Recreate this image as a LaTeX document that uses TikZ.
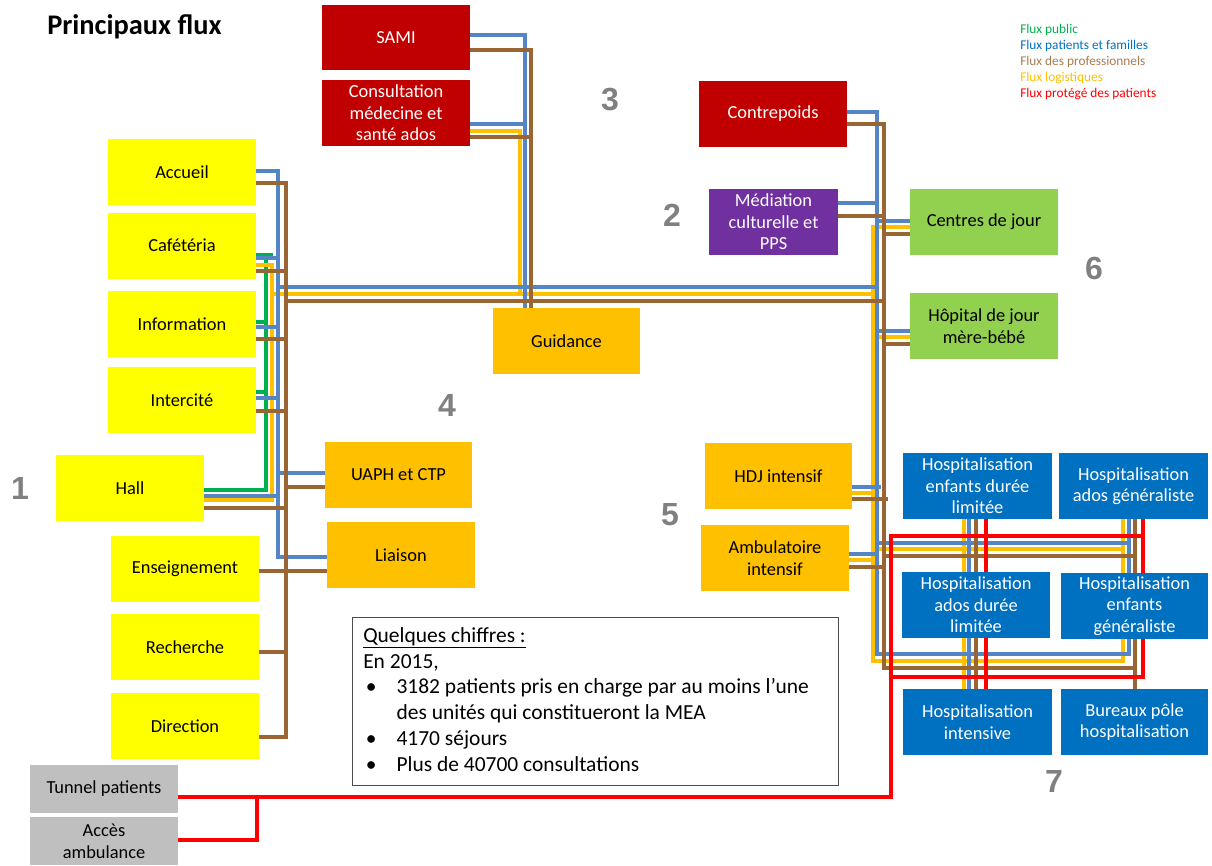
\documentclass[tikz,border=0pt]{standalone}
\usepackage{fontspec}
\setmainfont{Carlito}
\newfontfamily\numfont{Liberation Sans}
\usetikzlibrary{backgrounds}

\definecolor{cblue}{RGB}{84,133,196}
\definecolor{cbrown}{RGB}{153,102,51}
\definecolor{cyellow}{RGB}{255,192,0}
\definecolor{cgreen}{RGB}{0,176,80}
\definecolor{cred}{RGB}{255,0,0}
\definecolor{fred}{RGB}{192,0,0}
\definecolor{fpurple}{RGB}{112,48,160}
\definecolor{fgreen}{RGB}{146,208,80}
\definecolor{forange}{RGB}{255,192,0}
\definecolor{fyellow}{RGB}{255,255,0}
\definecolor{fblue}{RGB}{0,112,192}
\definecolor{fgray}{RGB}{191,191,191}
\definecolor{cnum}{RGB}{128,128,128}
\definecolor{lgreen}{RGB}{0,176,80}
\definecolor{lblue}{RGB}{0,112,192}
\definecolor{lbrown}{RGB}{166,124,82}

\tikzset{
  box/.style={rectangle, inner sep=0pt, minimum width=111pt, minimum height=49.5pt,
    align=center, font=\fontsize{13.8}{16.2}\selectfont},
  redbox/.style={box, fill=fred, text=white},
  purplebox/.style={box, fill=fpurple, text=white, minimum width=96.75pt},
  greenbox/.style={box, fill=fgreen},
  orangebox/.style={box, fill=forange},
  yellowbox/.style={box, fill=fyellow},
  bluebox/.style={box, fill=fblue, text=white, minimum width=111.75pt},
  graybox/.style={box, fill=fgray, minimum height=36pt},
  flow/.style={line width=3pt},
  blu/.style={flow, draw=cblue},
  brn/.style={flow, draw=cbrown},
  ylw/.style={flow, draw=cyellow},
  grn/.style={flow, draw=cgreen},
  rd/.style={flow, draw=cred},
  num/.style={font=\numfont\bfseries\fontsize{24}{24}\selectfont, text=cnum},
  legend/.style={anchor=west, inner sep=0pt, font=\fontsize{10}{11}\selectfont}
}

\begin{document}
\begin{tikzpicture}[x=0.75pt, y=-0.75pt]
\useasboundingbox (0,0) rectangle (1212,865);

% title and legend
\node[anchor=west, inner sep=0pt, font=\bfseries\fontsize{21.3}{21.3}\selectfont] (title) at (47,27) {Principaux flux};
\node[legend, text=lgreen] (lg1) at (1020,30) {Flux public};
\node[legend, text=lblue] (lg2) at (1020,46) {Flux patients et familles};
\node[legend, text=lbrown] (lg3) at (1020,62) {Flux des professionnels};
\node[legend, text=cyellow] (lg4) at (1020,78) {Flux logistiques};
\node[legend, text=cred] (lg5) at (1020,94) {Flux protégé des patients};

% zone numbers
\node[num] (n1) at (20,488) {1};
\node[num] (n2) at (672,215) {2};
\node[num] (n3) at (610,100) {3};
\node[num] (n4) at (447,405) {4};
\node[num] (n5) at (670,515) {5};
\node[num] (n6) at (1094,268) {6};
\node[num] (n7) at (1054,781) {7};

% units
\node[redbox, minimum height=48.75pt] (sami) at (396,37.5) {SAMI};
\node[redbox] (consult) at (396,113) {Consultation\\médecine et\\santé ados};
\node[redbox] (contre) at (773,114) {Contrepoids};
\node[purplebox] (media) at (773.5,222) {Médiation\\culturelle et\\PPS};
\node[greenbox] (centres) at (984,222) {Centres de jour};
\node[greenbox] (hopj) at (984,326) {Hôpital de jour\\mère-bébé};
\node[orangebox, minimum width=110.25pt] (guid) at (566.5,341) {Guidance};

\node[yellowbox] (accueil) at (182,172) {Accueil};
\node[yellowbox] (cafe) at (182,245.5) {Cafétéria};
\node[yellowbox] (info) at (182,324) {Information};
\node[yellowbox] (inter) at (182,400) {Intercité};
\node[yellowbox] (hall) at (130,488) {Hall};
\node[yellowbox] (ens) at (185,569) {Enseignement};
\node[yellowbox] (rech) at (185,647) {Recherche};
\node[yellowbox] (dir) at (185,726) {Direction};

\node[orangebox, minimum width=110.25pt] (uaph) at (398.5,475) {UAPH et CTP};
\node[orangebox] (liaison) at (401,555) {Liaison};
\node[orangebox, minimum width=110.25pt] (hdj) at (778.5,476) {HDJ intensif};
\node[orangebox] (amb) at (775,558) {Ambulatoire\\intensif};

\node[bluebox] (hedl) at (977.5,486) {Hospitalisation\\enfants durée\\limitée};
\node[bluebox] (hag) at (1133.5,486) {Hospitalisation\\ados généraliste};
\node[bluebox, minimum width=111pt] (hadl) at (976,605) {Hospitalisation\\ados durée\\limitée};
\node[bluebox, minimum width=110.25pt] (heg) at (1134.5,606) {Hospitalisation\\enfants\\généraliste};
\node[bluebox] (hint) at (977.5,722) {Hospitalisation\\intensive};
\node[bluebox, minimum width=110.25pt] (bur) at (1134.5,722) {Bureaux pôle\\hospitalisation};

\node[graybox] (tunnel) at (104,789) {Tunnel patients};
\node[graybox] (acces) at (104,841) {Accès\\ambulance};

% key figures: frame, then its text
\node[draw=black!70, line width=0.8pt, fill=white, anchor=north west, inner sep=0pt,
  minimum width=364.5pt, minimum height=126pt] (stats) at (352,617) {};
\node[anchor=north west, inner sep=0pt, align=left,
  font=\fontsize{16.1}{19.4}\selectfont] (statstext) at (363,627)
{\underline{Quelques chiffres :}\\
En 2015,\\
\makebox[25pt][l]{\hspace{2pt}\textbullet}3182 patients pris en charge par au moins l’une\\
\hspace*{25pt}des unités qui constitueront la MEA\\
\makebox[25pt][l]{\hspace{2pt}\textbullet}4170 séjours\\
\makebox[25pt][l]{\hspace{2pt}\textbullet}Plus de 40700 consultations};

\begin{pgfonlayer}{background}
% ---- public flow (reception side)
\draw[grn] (cafe.east |- 0,255) -- (273,255);
\draw[grn] (266,255) |- (hall.east |- 0,490);
\draw[grn] (info.east |- 0,322) -- (266,322);
\draw[grn] (inter.east |- 0,392) -- (266,392);

% ---- logistics flow
\draw[ylw] (cafe.east |- 0,265) -| (272,500) -- (hall.east |- 0,500);
\draw[ylw] (272,294) -- (873,294);
\draw[ylw] (consult.east |- 0,131) -| (520,295);
\draw[ylw] (centres.west |- 0,227) -| (873,661) -| (hag.south -| 1123,0);
\draw[ylw] (873,337) -- (hopj.west |- 0,337);
\draw[ylw] (hdj.east |- 0,493) -- (873,493);
\draw[ylw] (amb.east |- 0,560) -- (873,560);
\draw[ylw] (873,549) -- (1123,549);
\draw[ylw] (hedl.south -| 964,0) -- (hint.north -| 964,0);

% ---- patients and families flow
\draw[blu] (accueil.east |- 0,171) -| (278,557) -- (liaison.west |- 0,557);
\draw[blu] (cafe.east |- 0,258) -- (278,258);
\draw[blu] (info.east |- 0,327) -- (278,327);
\draw[blu] (inter.east |- 0,398) -- (278,398);
\draw[blu] (hall.east |- 0,496) -- (278,496);
\draw[blu] (278,473) -- (uaph.west |- 0,473);
\draw[blu] (278,287) -- (877,287);
\draw[blu] (sami.east |- 0,35) -| (guid.north -| 525,0);
\draw[blu] (consult.east |- 0,124) -- (525,124);
\draw[blu] (contre.east |- 0,112) -| (877,654) -| (hag.south -| 1129,0);
\draw[blu] (media.east |- 0,203) -- (877,203);
\draw[blu] (877,221) -- (centres.west |- 0,221);
\draw[blu] (877,331) -- (hopj.west |- 0,331);
\draw[blu] (hdj.east |- 0,487) -- (881,487);
\draw[blu] (amb.east |- 0,554) -- (877,554);
\draw[blu] (877,543) -- (1129,543);
\draw[blu] (hedl.south -| 969,0) -- (hint.north -| 969,0);

% ---- professionals flow
\draw[brn] (accueil.east |- 0,183) -| (286,737) -- (dir.east |- 0,737);
\draw[brn] (cafe.east |- 0,271) -- (286,271);
\draw[brn] (info.east |- 0,339) -- (286,339);
\draw[brn] (inter.east |- 0,411) -- (286,411);
\draw[brn] (hall.east |- 0,508) -- (286,508);
\draw[brn] (286,487) -- (uaph.west |- 0,487);
\draw[brn] (ens.east |- 0,571) -- (liaison.west |- 0,571);
\draw[brn] (rech.east |- 0,652) -- (286,652);
\draw[brn] (286,301) -- (885,301);
\draw[brn] (sami.east |- 0,50) -| (guid.north -| 531,0);
\draw[brn] (consult.east |- 0,137) -- (531,137);
\draw[brn] (contre.east |- 0,124) -| (884,668) -| (bur.north -| 1135,0);
\draw[brn] (hag.south -| 1135,0) -- (1135,668);
\draw[brn] (media.east |- 0,216) -- (884,216);
\draw[brn] (884,234) -- (centres.west |- 0,234);
\draw[brn] (884,344) -- (hopj.west |- 0,344);
\draw[brn] (hdj.east |- 0,499) -- (888,499);
\draw[brn] (amb.east |- 0,567) -- (884,567);
\draw[brn] (884,556) -- (1135,556);
\draw[brn] (hedl.south -| 976,0) -- (hint.north -| 976,0);

% ---- protected patient flow
\draw[rd] (tunnel.east |- 0,797) -| (891,536) -- (1143,536);
\draw[rd] (hag.south -| 1143,0) |- (891,677);
\draw[rd] (acces.east |- 0,840) -| (257,797);
\draw[rd] (hedl.south -| 986,0) -- (hint.north -| 986,0);
\end{pgfonlayer}
\end{tikzpicture}
\end{document}
